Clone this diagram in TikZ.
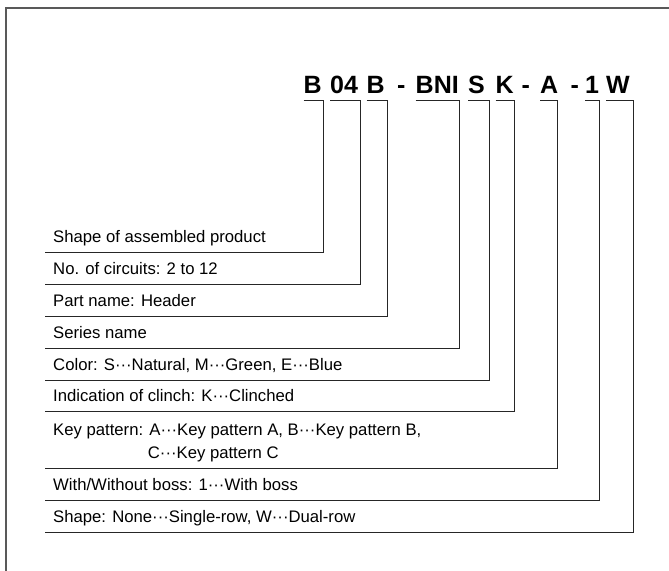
\documentclass[tikz,border=0pt]{standalone}
\usepackage{fontspec}
\setmainfont{Liberation Sans}
\newcommand{\mdots}{\textperiodcentered\textperiodcentered\textperiodcentered}

\begin{document}
\begin{tikzpicture}[x=1pt,y=-1pt,
    codice/.style={inner sep=0pt,anchor=base west,font=\fontsize{25}{30}\selectfont\bfseries},
    voce/.style={anchor=south west,inner xsep=8pt,inner ysep=2pt,align=left,font=\fontsize{16.7}{23}\selectfont},
    guida/.style={draw=black!85,line width=0.8pt}]
    % area del disegno
    \useasboundingbox (0,0) rectangle (669,570);
    % cornice (solo lato sinistro e alto)
    \draw[black!65,line width=1.4pt] (6,571) -- (6,8) -- (670,8);

    % codice del prodotto
    \node[codice] (cB) at (303.5,93) {B};
    \node[codice] (c04) at (330,93) {04};
    \node[codice] (cBb) at (366.5,93) {B};
    \node[codice] (t1) at (397,93) {-};
    \node[codice] (cBNI) at (415.5,93) {BNI};
    \node[codice] (cS) at (468,93) {S};
    \node[codice] (cK) at (495.5,93) {K};
    \node[codice] (t2) at (521.5,93) {-};
    \node[codice] (cA) at (540,93) {A};
    \node[codice] (t3) at (570.5,93) {-};
    \node[codice] (c1) at (585,93) {1};
    \node[codice] (cW) at (606,93) {W};

    % voci
    \node[voce] (forma) at (45,252) {Shape of assembled product\strut};
    \node[voce] (circuiti) at (45,284) {No. of circuits: 2 to 12\strut};
    \node[voce] (parte) at (45,316) {Part name: Header\strut};
    \node[voce] (serie) at (45,348) {Series name\strut};
    \node[voce] (colore) at (45,380) {Color: S\mdots Natural, M\mdots Green, E\mdots Blue\strut};
    \node[voce] (clinch) at (45,411) {Indication of clinch: K\mdots Clinched\strut};
    \node[voce] (chiave) at (45,468) {Key pattern: A\mdots Key pattern A, B\mdots Key pattern B,\strut\\
        \hphantom{Key pattern:\ }C\mdots Key pattern C\strut};
    \node[voce] (boss) at (45,500) {With/Without boss: 1\mdots With boss\strut};
    \node[voce] (file) at (45,532) {Shape: None\mdots Single-row, W\mdots Dual-row\strut};

    % linee di richiamo (\d = piccolo scarto a destra)
    \foreach \c/\v/\d in {cB/forma/1.5, c04/circuiti/2, cBb/parte/2.5, cBNI/serie/0.5, cS/colore/4,
                          cK/clinch/0.5, cA/chiave/-1, c1/boss/0, cW/file/3}
        \draw[guida] ([yshift=-7pt]\c.base west) -| ([xshift=\d pt]\v.south west -| \c.east) -- (\v.south west);

\end{tikzpicture}
\end{document}
